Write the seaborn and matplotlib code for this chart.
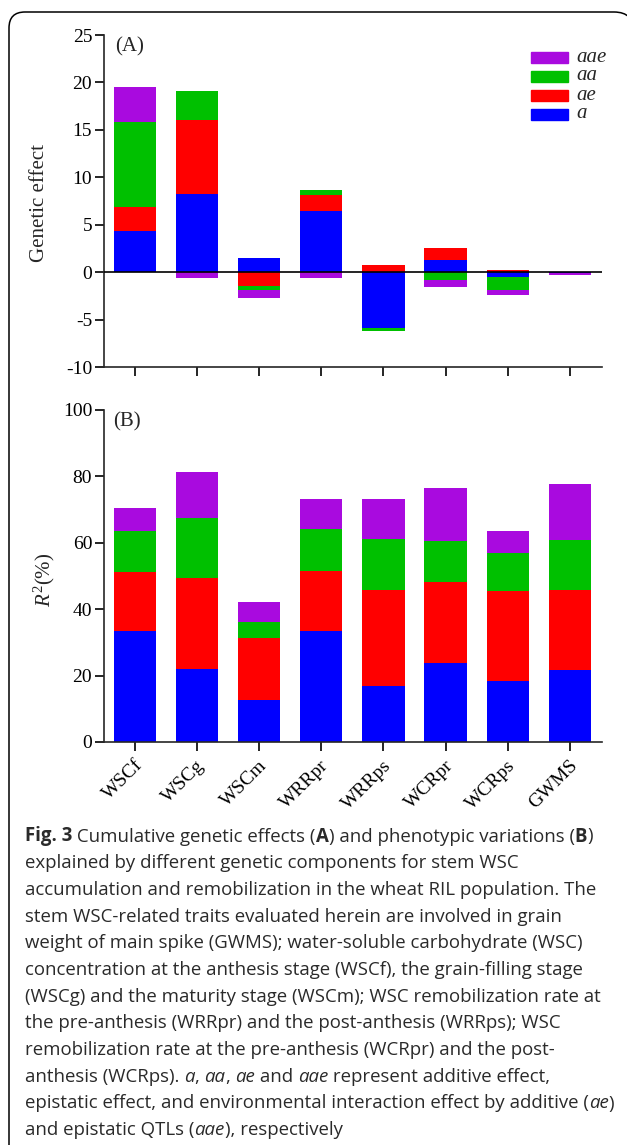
import numpy as np
import matplotlib
matplotlib.use("Agg")
import matplotlib.pyplot as plt
import matplotlib.transforms as mtransforms
import seaborn as sns
from matplotlib.patches import Rectangle, PathPatch
from matplotlib.path import Path

traits = ["WSCf", "WSCg", "WSCm", "WRRpr", "WRRps", "WCRpr", "WCRps", "GWMS"]
components = ["a", "ae", "aa", "aae"]
legend_labels = ["aae", "aa", "ae", "a"]
colors = {"a": "#0000FF", "ae": "#FF0000", "aa": "#00C000", "aae": "#A90ADF"}

# (A) cumulative genetic effects per component
effect_a = [4.35, 8.28, 1.51, 6.49, -5.86, 1.26, -0.50, -0.10]
effect_ae = [2.53, 7.76, -1.44, 1.61, 0.80, 1.30, 0.20, 0.00]
effect_aa = [8.92, 3.05, -0.46, 0.53, -0.34, -0.84, -1.40, 0.00]
effect_aae = [3.70, -0.63, -0.87, -0.63, 0.00, -0.76, -0.50, -0.15]

# (B) phenotypic variation explained, R2 (%)
r2_a = [33.3, 22.1, 12.7, 33.3, 16.8, 23.7, 18.5, 21.6]
r2_ae = [17.8, 27.4, 18.7, 18.1, 29.0, 24.6, 27.0, 24.1]
r2_aa = [12.5, 18.1, 4.8, 12.7, 15.2, 12.1, 11.4, 15.2]
r2_aae = [6.8, 13.6, 5.9, 9.1, 12.3, 16.2, 6.8, 16.9]

W, H = 627, 1145
sns.set_style("ticks")
plt.rcParams["font.family"] = ["Liberation Serif", "DejaVu Serif"]
plt.rcParams["axes.unicode_minus"] = False
plt.rcParams["mathtext.fontset"] = "custom"
plt.rcParams["mathtext.rm"] = "Liberation Serif"
plt.rcParams["mathtext.it"] = "Liberation Serif:italic"

fig = plt.figure(figsize=(W / 100, H / 100), dpi=100)
fig.patch.set_facecolor("white")

axA = fig.add_axes([104 / W, 1 - 367 / H, 498 / W, 332 / H])
axB = fig.add_axes([104 / W, 1 - 742 / H, 498 / W, 332 / H])


def stack_bars(ax, series):
    vals = np.array(series)
    pos = np.cumsum(np.clip(vals, 0, None), axis=0)
    neg = np.cumsum(np.clip(vals, None, 0), axis=0)
    for k in range(len(components) - 1, -1, -1):
        col = colors[components[k]]
        for cum in (pos[k], neg[k]):
            sns.barplot(x=traits, y=cum, color=col, saturation=1, width=0.68,
                        linewidth=0, ax=ax, zorder=2)


stack_bars(axA, [effect_a, effect_ae, effect_aa, effect_aae])
stack_bars(axB, [r2_a, r2_ae, r2_aa, r2_aae])

for ax in (axA, axB):
    sns.despine(ax=ax)
    for sp in ("left", "bottom"):
        ax.spines[sp].set_linewidth(1.2)
    ax.tick_params(axis="both", length=6.5, width=1.2, labelsize=14, pad=2,
                   direction="out", colors="black")
    ax.set_xlim(-0.5, 7.52)

axA.set_ylim(-10, 25)
axA.set_yticks(range(-10, 26, 5))
axA.axhline(0, color="black", lw=1.2, zorder=3)
axA.tick_params(axis="x", labelbottom=False)
axA.set_ylabel("Genetic effect", fontsize=15)
axA.yaxis.set_label_coords(-0.110, 0.494)
axA.text(0.022, 0.964, "(A)", transform=axA.transAxes, fontsize=15, va="center")

axB.set_ylim(0, 100)
axB.set_yticks(range(0, 101, 20))
axB.set_xticks(range(len(traits)))
axB.set_xticklabels(traits, rotation=45, ha="right", va="center",
                    rotation_mode="anchor", fontsize=14)
shift = mtransforms.ScaledTranslation(5 / 100, -9 / 100, fig.dpi_scale_trans)
for lab in axB.get_xticklabels():
    lab.set_transform(lab.get_transform() + shift)
axB.set_ylabel(r"$R^2$(%)", fontsize=15)
axB.yaxis.set_label_coords(-0.094, 0.488)
axB.text(0.018, 0.964, "(B)", transform=axB.transAxes, fontsize=15, va="center")

# legend (top right of panel A)
for i, lab in enumerate(legend_labels):
    yc = 57 + 19 * i
    fig.patches.append(Rectangle((531 / W, 1 - (yc + 5.5) / H), 37 / W, 11 / H,
                                 transform=fig.transFigure, color=colors[lab]))
    fig.text(576 / W, 1 - yc / H, lab, fontsize=15, style="italic", va="center")

# rounded frame, right side runs off the page
verts = [(9, H + 5), (9, 28), (9, 12), (25, 12), (614, 12), (634, 12), (634, 32)]
codes = [Path.MOVETO, Path.LINETO, Path.CURVE3, Path.CURVE3, Path.LINETO,
         Path.CURVE3, Path.CURVE3]
verts = [(x / W, 1 - y / H) for x, y in verts]
fig.patches.append(PathPatch(Path(verts, codes), transform=fig.transFigure,
                             fill=False, lw=1.1, edgecolor="black"))

# caption
cap_font = ["Open Sans", "DejaVu Sans"]
cap_color = "#2a2a2a"
N, B, I = ("normal", "normal"), ("bold", "normal"), ("normal", "italic")
caption = [
    [("Fig. 3", B), (" Cumulative genetic effects (", N), ("A", B),
     (") and phenotypic variations (", N), ("B", B), (")", N)],
    [("explained by different genetic components for stem WSC", N)],
    [("accumulation and remobilization in the wheat RIL population. The", N)],
    [("stem WSC-related traits evaluated herein are involved in grain", N)],
    [("weight of main spike (GWMS); water-soluble carbohydrate (WSC)", N)],
    [("concentration at the anthesis stage (WSCf), the grain-filling stage", N)],
    [("(WSCg) and the maturity stage (WSCm); WSC remobilization rate at", N)],
    [("the pre-anthesis (WRRpr) and the post-anthesis (WRRps); WSC", N)],
    [("remobilization rate at the pre-anthesis (WCRpr) and the post-", N)],
    [("anthesis (WCRps). ", N), ("a", I), (", ", N), ("aa", I), (", ", N), ("ae", I),
     (" and ", N), ("aae", I), (" represent additive effect,", N)],
    [("epistatic effect, and environmental interaction effect by additive (", N),
     ("ae", I), (")", N)],
    [("and epistatic QTLs (", N), ("aae", I), ("), respectively", N)],
]

renderer = fig.canvas.get_renderer()


def text_w(txt, style, size):
    t = fig.text(0, 0, txt, fontsize=size, family=cap_font, weight=style[0], style=style[1])
    w = t.get_window_extent(renderer=renderer).width
    t.remove()
    return w


def seg_w(txt, style, size):
    return text_w("x" + txt + "x", style, size) - text_w("xx", style, size)


ref = 10.0
w1 = sum(seg_w(s, st, ref) for s, st in caption[0])
w11 = sum(seg_w(s, st, ref) for s, st in caption[10])
cap_size = ref * (575 + 585) / (w1 + w11)

for n, line in enumerate(caption):
    yb = 835 + n * 26.7 + 6.5
    x = 25
    for s, st in line:
        fig.text(x / W, 1 - yb / H, s, fontsize=cap_size, family=cap_font,
                 weight=st[0], style=st[1], color=cap_color, va="baseline", ha="left")
        x += seg_w(s, st, cap_size)

fig.savefig("out.png", dpi=100, facecolor="white")
